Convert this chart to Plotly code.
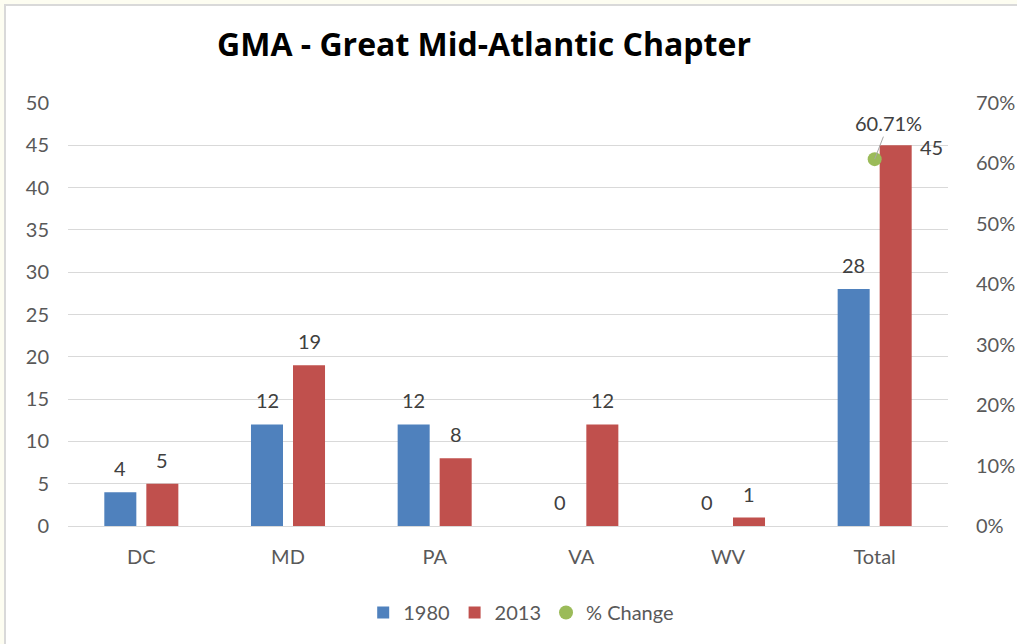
import plotly.graph_objects as go

categories = ["DC", "MD", "PA", "VA", "WV", "Total"]
values_1980 = [4, 12, 12, 0, 0, 28]
values_2013 = [5, 19, 8, 12, 1, 45]
pct_change = [None, None, None, None, None, 0.6071]

left_ticks = list(range(0, 55, 5))
right_ticks = [0, 0.1, 0.2, 0.3, 0.4, 0.5, 0.6, 0.7]

BLUE = "#4F81BD"
RED = "#C0504D"
GREEN = "#9BBB59"
FONT = "Lato"
GREY_TXT = "#595959"
LABEL_TXT = "#404040"

fig = go.Figure()
fig.add_trace(go.Bar(name="1980", x=categories, y=values_1980, marker_color=BLUE,
                     marker_line_width=0))
fig.add_trace(go.Bar(name="2013", x=categories, y=values_2013, marker_color=RED,
                     marker_line_width=0))
fig.add_trace(go.Scatter(name="% Change", x=categories, y=pct_change, yaxis="y2",
                         mode="markers", marker=dict(color=GREEN, size=14)))

annotations = []
last = len(categories) - 1
for i, c in enumerate(categories):
    annotations.append(dict(x=c, y=values_1980[i], text=str(values_1980[i]), showarrow=False,
                            xshift=-21, yshift=24, font=dict(family=FONT, size=20, color=LABEL_TXT)))
    if i == last:
        annotations.append(dict(x=c, y=values_2013[i], text=str(values_2013[i]), showarrow=False,
                                xshift=57, yshift=-2, font=dict(family=FONT, size=20, color=LABEL_TXT)))
    else:
        annotations.append(dict(x=c, y=values_2013[i], text=str(values_2013[i]), showarrow=False,
                                xshift=21, yshift=24, font=dict(family=FONT, size=20, color=LABEL_TXT)))
    if pct_change[i] is not None:
        annotations.append(dict(x=c, y=pct_change[i], yref="y2", text=f"{pct_change[i]*100:.2f}%",
                                showarrow=True, arrowhead=0, arrowwidth=1, arrowcolor="#A6A6A6",
                                ax=14, ay=-36, font=dict(family=FONT, size=20, color=LABEL_TXT)))

# chart-area frame (white with light grey border on cream page)
shapes = [dict(type="rect", xref="paper", yref="paper",
               x0=(5 - 68) / 880, x1=(1030 - 68) / 880,
               y0=(526 - 660) / 423, y1=(526 - 5) / 423,
               fillcolor="white", line=dict(color="#D9D9D9", width=2), layer="below")]

fig.update_layout(
    width=1017, height=644,
    paper_bgcolor="#FDFDF1", plot_bgcolor="rgba(0,0,0,0)",
    margin=dict(l=68, r=69, t=103, b=118, autoexpand=False),
    barmode="group", bargap=0.427, bargroupgap=0.238,
    title=dict(text="<b>GMA - Great Mid-Atlantic Chapter</b>", x=484 / 1017, xanchor="center",
               y=1 - 45 / 644, yanchor="middle",
               font=dict(family="Open Sans", size=32, color="black")),
    font=dict(family=FONT, size=20, color=GREY_TXT),
    xaxis=dict(showgrid=False, showline=False, ticks="", ticklabelstandoff=17, automargin=False,
               tickfont=dict(size=20, color=GREY_TXT)),
    yaxis=dict(range=[0, 50], tickvals=left_ticks, showgrid=True, gridcolor="#D9D9D9",
               gridwidth=1, zeroline=True, zerolinecolor="#D9D9D9", zerolinewidth=1,
               showline=False, ticks="", ticklabelstandoff=18, automargin=False,
               tickfont=dict(size=20, color=GREY_TXT)),
    yaxis2=dict(range=[0, 0.7], tickvals=right_ticks, tickformat=".0%", overlaying="y",
                side="right", showgrid=False, zeroline=False, showline=False, ticks="",
                ticklabelstandoff=27, automargin=False, tickfont=dict(size=20, color=GREY_TXT)),
    legend=dict(orientation="h", x=0.515, xanchor="center", y=(526 - 593) / 423, yanchor="top",
                font=dict(family=FONT, size=20, color=GREY_TXT), itemwidth=30,
                bgcolor="rgba(0,0,0,0)"),
    annotations=annotations,
    shapes=shapes,
    showlegend=True,
)

fig.write_html("out.html", config={"displayModeBar": False},
               post_script="document.body.style.margin='0';document.body.style.overflow='hidden';")
